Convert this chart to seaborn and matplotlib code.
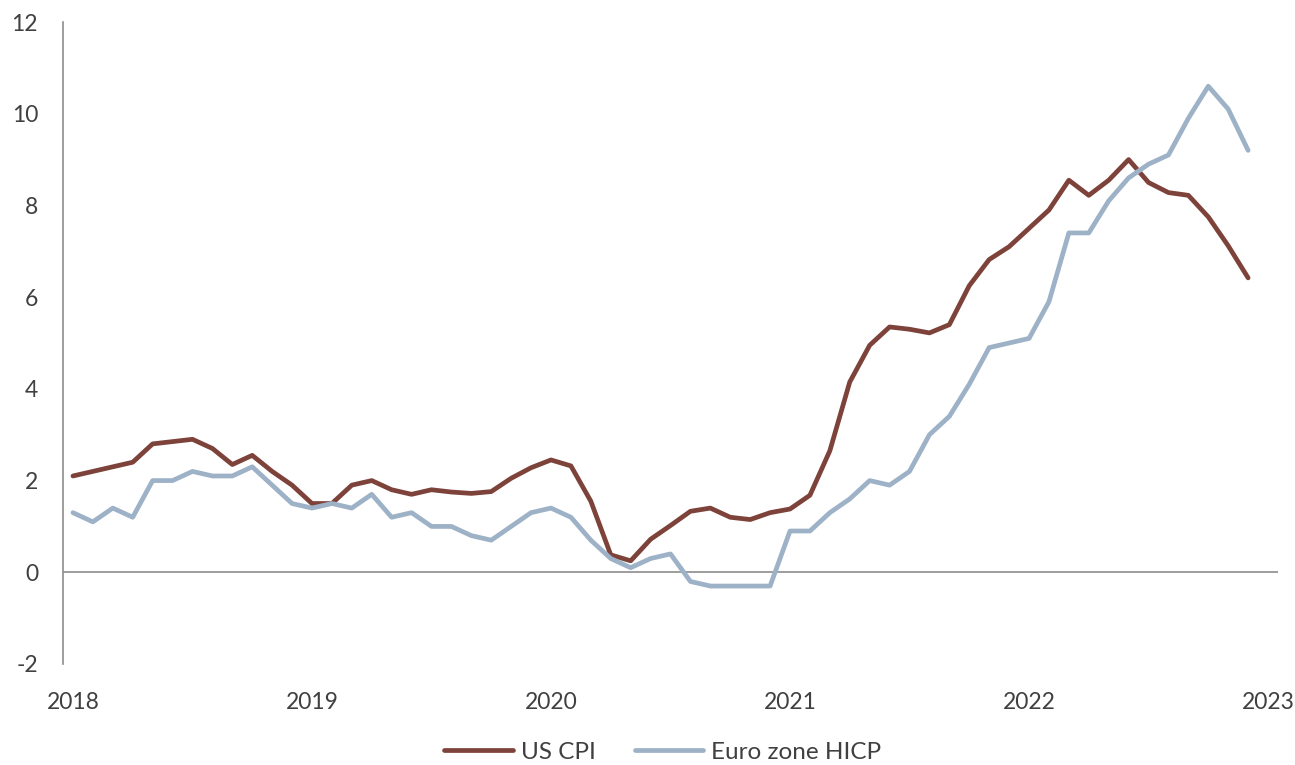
import numpy as np
import pandas as pd
import matplotlib
matplotlib.use("Agg")
import matplotlib.pyplot as plt
import seaborn as sns

years = ["2018", "2019", "2020", "2021", "2022", "2023"]

us_cpi = [2.1, 2.2, 2.3, 2.4, 2.8, 2.85, 2.9, 2.7, 2.35, 2.55, 2.2, 1.9,
          1.5, 1.5, 1.9, 2.0, 1.8, 1.7, 1.8, 1.75, 1.72, 1.76, 2.05, 2.28,
          2.45, 2.32, 1.55, 0.38, 0.25, 0.72, 1.02, 1.33, 1.4, 1.2, 1.15, 1.3,
          1.38, 1.68, 2.65, 4.15, 4.95, 5.35, 5.3, 5.22, 5.4, 6.25, 6.82, 7.1,
          7.5, 7.9, 8.55, 8.22, 8.55, 9.0, 8.5, 8.28, 8.22, 7.75, 7.12, 6.42]

euro_hicp = [1.3, 1.1, 1.4, 1.2, 2.0, 2.0, 2.2, 2.1, 2.1, 2.3, 1.9, 1.5,
             1.4, 1.5, 1.4, 1.7, 1.2, 1.3, 1.0, 1.0, 0.8, 0.7, 1.0, 1.3,
             1.4, 1.2, 0.7, 0.3, 0.1, 0.3, 0.4, -0.2, -0.3, -0.3, -0.3, -0.3,
             0.9, 0.9, 1.3, 1.6, 2.0, 1.9, 2.2, 3.0, 3.4, 4.1, 4.9, 5.0,
             5.1, 5.9, 7.4, 7.4, 8.1, 8.6, 8.9, 9.1, 9.9, 10.6, 10.1, 9.2]

series_names = ["US CPI", "Euro zone HICP"]

n = len(us_cpi)
df = pd.DataFrame({
    "month": list(range(n)) * 2,
    "value": us_cpi + euro_hicp,
    "series": [series_names[0]] * n + [series_names[1]] * n,
})

sns.set_theme(style="white")
plt.rcParams["font.family"] = ["Lato", "DejaVu Sans"]

fig = plt.figure(figsize=(12.95, 7.65), dpi=100)
ax = fig.add_axes([63 / 1295, 1 - 664 / 765, (1278 - 63) / 1295, (664 - 22) / 765])

palette = {"US CPI": "#7D4239", "Euro zone HICP": "#9DB1C7"}
sns.lineplot(data=df, x="month", y="value", hue="series", palette=palette,
             linewidth=3.4, ax=ax, legend=True)

ax.set_xlim(-0.5, 60.5)
ax.set_ylim(-2, 12)
ax.set_yticks(range(-2, 13, 2))
ax.set_yticklabels([str(v) for v in range(-2, 13, 2)])
ax.set_xticks([0, 12, 24, 36, 48, 60])
ax.set_xticklabels(years)
ax.set_xlabel("")
ax.set_ylabel("")

for s in ["top", "right", "bottom"]:
    ax.spines[s].set_visible(False)
ax.spines["left"].set_color("#8c8c8c")
ax.spines["left"].set_linewidth(1.2)
ax.axhline(0, color="#8c8c8c", linewidth=1.2, zorder=1)

ax.tick_params(axis="both", length=0, labelsize=16.5, colors="#404040")
ax.tick_params(axis="y", pad=18)
ax.tick_params(axis="x", pad=20)

handles, labels = ax.get_legend_handles_labels()
ax.get_legend().remove()
fig.legend(handles, labels, loc="center", bbox_to_anchor=(663 / 1295, 1 - 752 / 765),
           bbox_transform=fig.transFigure,
           ncol=2, frameon=False, fontsize=17.5, handlelength=2.8,
           handletextpad=0.35, columnspacing=1.6, labelcolor="#404040")

fig.savefig("out.png", dpi=100)
